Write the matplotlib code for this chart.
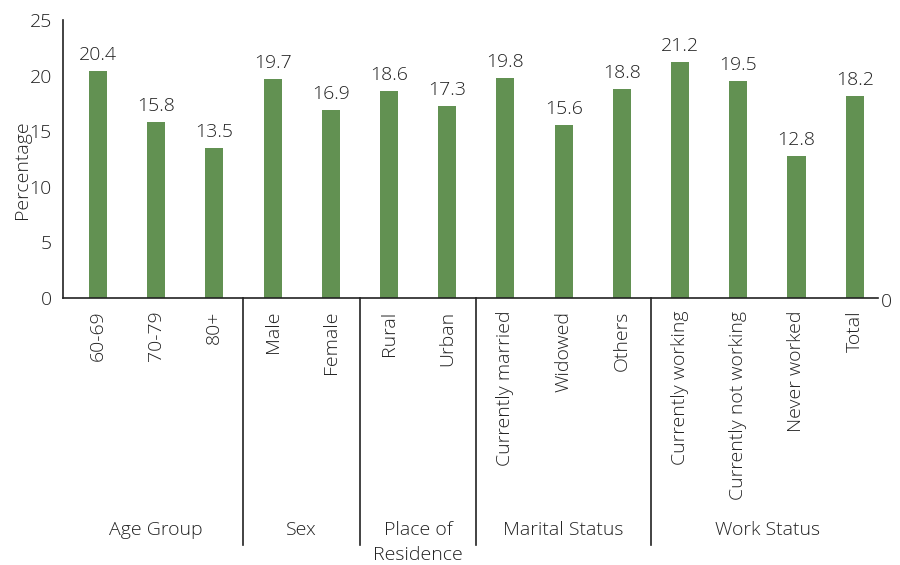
import matplotlib
matplotlib.use("Agg")
import matplotlib.pyplot as plt

categories = ["60-69", "70-79", "80+", "Male", "Female", "Rural", "Urban",
              "Currently married", "Widowed", "Others",
              "Currently working", "Currently not working", "Never worked", "Total"]
values = [20.4, 15.8, 13.5, 19.7, 16.9, 18.6, 17.3, 19.8, 15.6, 18.8, 21.2, 19.5, 12.8, 18.2]
groups = ["Age Group", "Sex", "Place of\nResidence", "Marital Status", "Work Status"]
group_sizes = [3, 2, 2, 3, 4]
y_ticks = [0, 5, 10, 15, 20, 25]

plt.rcParams["font.family"] = ["Open Sans", "DejaVu Sans"]
FW = "light"
FS = 14
BAR_COLOR = "#629152"
TXT = "#222222"

fig = plt.figure(figsize=(9, 5.65), dpi=100)
ax = fig.add_axes([63 / 900, 1 - 298 / 565, (878 - 63) / 900, (298 - 20) / 565])

x = list(range(len(categories)))
ax.bar(x, values, width=0.31, color=BAR_COLOR)
for xi, v in zip(x, values):
    ax.annotate(f"{v:.1f}", (xi, v), xytext=(0, 5), textcoords="offset points",
                ha="center", va="bottom", fontsize=FS, fontweight=FW, color=TXT)

ax.set_xlim(-0.6, 13.4)
ax.set_ylim(0, 25)
ax.set_yticks(y_ticks)
ax.set_yticklabels([str(t) for t in y_ticks], fontsize=FS, fontweight=FW, color=TXT)
ax.tick_params(axis="y", length=0, pad=8)
ax.set_xticks(x)
ax.set_xticklabels(categories, rotation=90, fontsize=FS, fontweight=FW, color=TXT,
                   va="top", ha="center")
ax.tick_params(axis="x", length=0, pad=9)

for s in ["top", "right"]:
    ax.spines[s].set_visible(False)
for s in ["left", "bottom"]:
    ax.spines[s].set_color("#222222")
    ax.spines[s].set_linewidth(1.2)

fig.text(22 / 900, 1 - 170 / 565, "Percentage", rotation=90, ha="center", va="center",
         fontsize=FS, fontweight=FW, color=TXT)
fig.text(886 / 900, 1 - 302 / 565, "0", ha="center", va="center",
         fontsize=FS, fontweight=FW, color=TXT)

# group separators and group titles below the axis
trans = ax.get_xaxis_transform()
px = 1 / (298 - 20)
start = 0
for i, (g, n) in enumerate(zip(groups, group_sizes)):
    end = start + n
    center = (start + end - 1) / 2
    if i < len(groups) - 1:
        ax.plot([end - 0.5, end - 0.5], [0, -(545 - 298) * px], transform=trans,
                color="#222222", lw=1.2, clip_on=False)
    for k, line in enumerate(g.split("\n")):
        ax.text(center, -(530 - 298 + 25 * k) * px, line, transform=trans,
                ha="center", va="center", fontsize=FS, fontweight=FW, color=TXT)
    start = end

fig.savefig("out.png", dpi=100)
